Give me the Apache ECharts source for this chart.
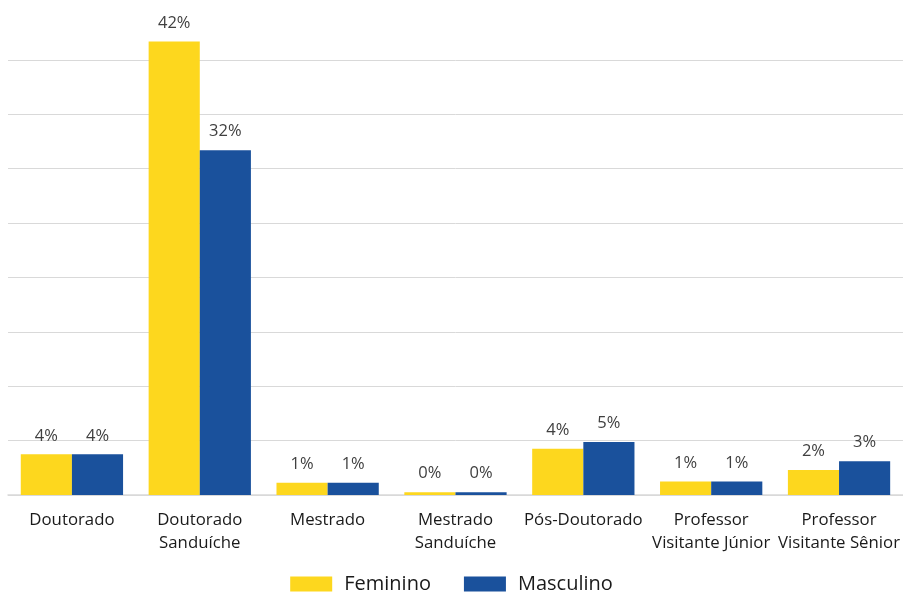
<!DOCTYPE html>
<html>
<head>
<meta charset="utf-8">
<script src="https://cdn.jsdelivr.net/npm/echarts@6/dist/echarts.min.js"></script>
<style>
html,body{margin:0;padding:0;background:#fff;}
#chart{width:903px;height:592px;}
</style>
</head>
<body>
<div id="chart"></div>
<script>
const categories = ['Doutorado', 'Doutorado\nSanduíche', 'Mestrado', 'Mestrado\nSanduíche', 'Pós-Doutorado', 'Professor\nVisitante Júnior', 'Professor\nVisitante Sênior'];
const feminino = [3.74, 41.7, 1.13, 0.25, 4.26, 1.23, 2.30];
const masculino = [3.74, 31.7, 1.13, 0.25, 4.87, 1.23, 3.10];
const seriesNames = ['Feminino', 'Masculino'];
const colors = ['#FDD71E', '#1A519C'];

const font = '"Open Sans", "Noto Sans", sans-serif';
const chart = echarts.init(document.getElementById('chart'));
const labelCfg = {
  show: true, position: 'top', distance: 10,
  color: '#404040', fontSize: 16.5, fontFamily: font,
  formatter: p => Math.round(p.value) + '%'
};
chart.setOption({
  animation: false,
  textStyle: { fontFamily: font },
  grid: { left: 8, right: 0, top: 5.6, bottom: 97, containLabel: false },
  legend: {
    bottom: -7, left: 'center',
    icon: 'rect',
    itemWidth: 42, itemHeight: 15, itemGap: 33,
    textStyle: { fontSize: 20, color: '#1a1a1a', fontFamily: font, padding: [0, 0, 0, 7] },
    data: seriesNames
  },
  xAxis: {
    type: 'category', data: categories,
    axisLine: { lineStyle: { color: '#d9d9d9', width: 1.5 } },
    axisTick: { show: false },
    axisLabel: { color: '#1a1a1a', fontSize: 16.8, lineHeight: 23, margin: 14, interval: 0, fontFamily: font }
  },
  yAxis: {
    type: 'value', min: 0, max: 45, interval: 5,
    axisLabel: { show: false },
    axisLine: { show: false }, axisTick: { show: false },
    splitLine: { show: true, showMaxLine: false, lineStyle: { color: '#d9d9d9', width: 1 } }
  },
  series: [
    { name: seriesNames[0], type: 'bar', data: feminino, barGap: '0%', barCategoryGap: '20%',
      itemStyle: { color: colors[0] }, label: labelCfg },
    { name: seriesNames[1], type: 'bar', data: masculino,
      itemStyle: { color: colors[1] }, label: labelCfg }
  ]
});
</script>
</body>
</html>
